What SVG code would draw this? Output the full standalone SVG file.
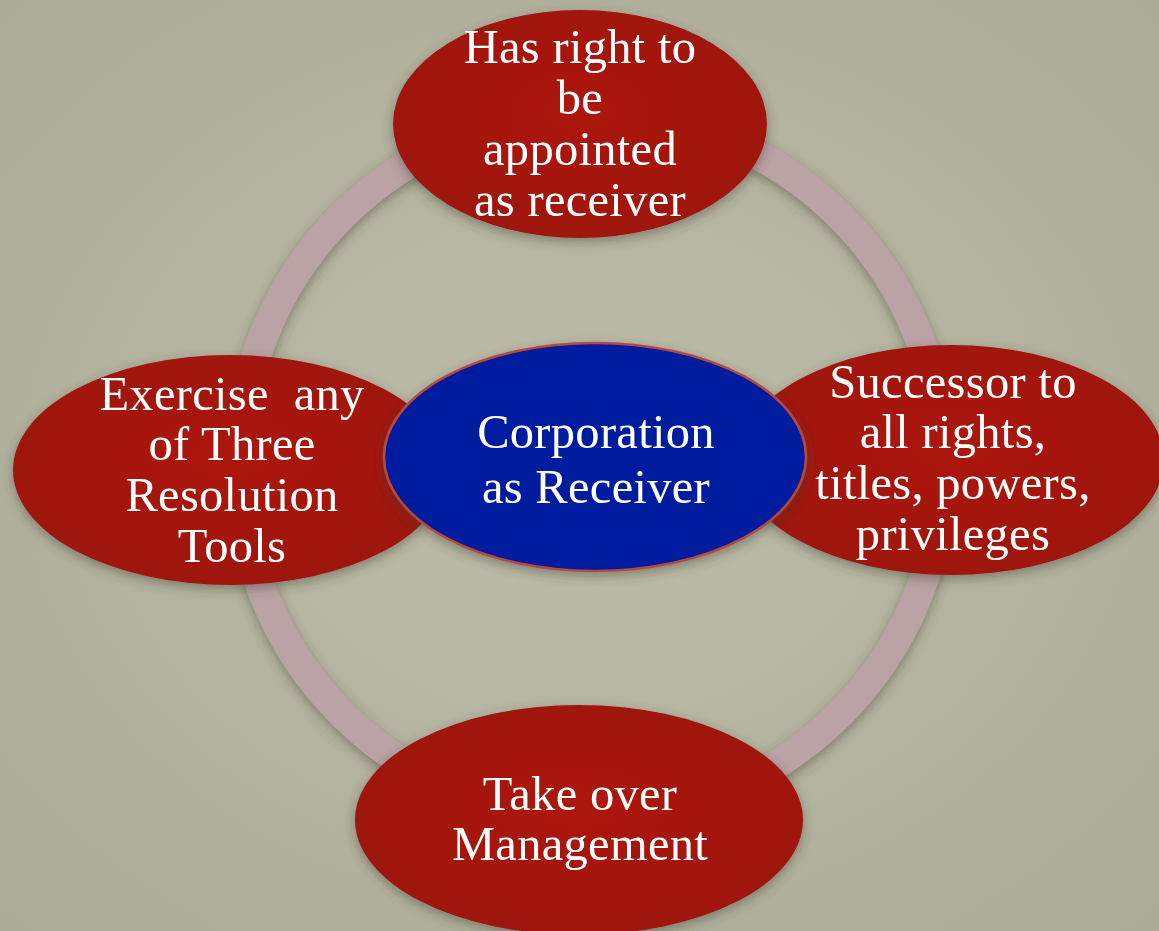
<svg xmlns="http://www.w3.org/2000/svg" width="1159" height="931" viewBox="0 0 1159 931">
  <defs>
    <radialGradient id="bg" cx="50%" cy="50%" r="75%">
      <stop offset="0" stop-color="#bebdab"/>
      <stop offset="1" stop-color="#abaa95"/>
    </radialGradient>
    <radialGradient id="red" cx="50%" cy="45%" r="60%">
      <stop offset="0" stop-color="#ad1610"/>
      <stop offset="1" stop-color="#9c120d"/>
    </radialGradient>
    <filter id="shadow" x="-20%" y="-20%" width="140%" height="140%">
      <feGaussianBlur in="SourceAlpha" stdDeviation="6"/>
      <feOffset dx="0" dy="4" result="b"/>
      <feFlood flood-color="#3a3a2a" flood-opacity="0.45"/>
      <feComposite in2="b" operator="in"/>
      <feMerge>
        <feMergeNode/>
        <feMergeNode in="SourceGraphic"/>
      </feMerge>
    </filter>
    <style>
      .node { fill: url(#red); filter: url(#shadow); }
      .hub { fill: #041a9e; stroke: #b44a42; stroke-width: 2.5; filter: url(#shadow); }
      .label { font-family: "Liberation Serif", "Times New Roman", serif; font-size: 48.5px; letter-spacing: 0.3px; fill: #ffffff; text-anchor: middle; white-space: pre; }
      .ring { fill: none; stroke: #bba2a5; stroke-width: 29; filter: url(#shadow); }
    </style>
  </defs>

  <rect width="1159" height="931" fill="url(#bg)"/>

  <!-- cycle linking the outer roles -->
  <g id="connectors">
    <circle class="ring" cx="591" cy="465" r="352"/>
  </g>

  <g id="node-top">
    <ellipse class="node" cx="580" cy="124" rx="187" ry="114"/>
    <text class="label" x="580" y="63">Has right to</text>
    <text class="label" x="580" y="114">be</text>
    <text class="label" x="580" y="165">appointed</text>
    <text class="label" x="580" y="216">as receiver</text>
  </g>

  <g id="node-left">
    <ellipse class="node" cx="230" cy="470" rx="217" ry="115"/>
    <text class="label" x="232" y="410">Exercise  any</text>
    <text class="label" x="232" y="460">of Three</text>
    <text class="label" x="232" y="511">Resolution</text>
    <text class="label" x="232" y="562">Tools</text>
  </g>

  <g id="node-right">
    <ellipse class="node" cx="951" cy="460" rx="213" ry="115"/>
    <text class="label" x="953" y="398">Successor to</text>
    <text class="label" x="953" y="448">all rights,</text>
    <text class="label" x="953" y="499">titles, powers,</text>
    <text class="label" x="953" y="550">privileges</text>
  </g>

  <g id="node-bottom">
    <ellipse class="node" cx="579" cy="820" rx="224" ry="115"/>
    <text class="label" x="580" y="810">Take over</text>
    <text class="label" x="580" y="860">Management</text>
  </g>

  <g id="node-center">
    <ellipse class="hub" cx="595" cy="457" rx="211" ry="114"/>
    <text class="label" x="596" y="448">Corporation</text>
    <text class="label" x="596" y="503">as Receiver</text>
  </g>
</svg>
